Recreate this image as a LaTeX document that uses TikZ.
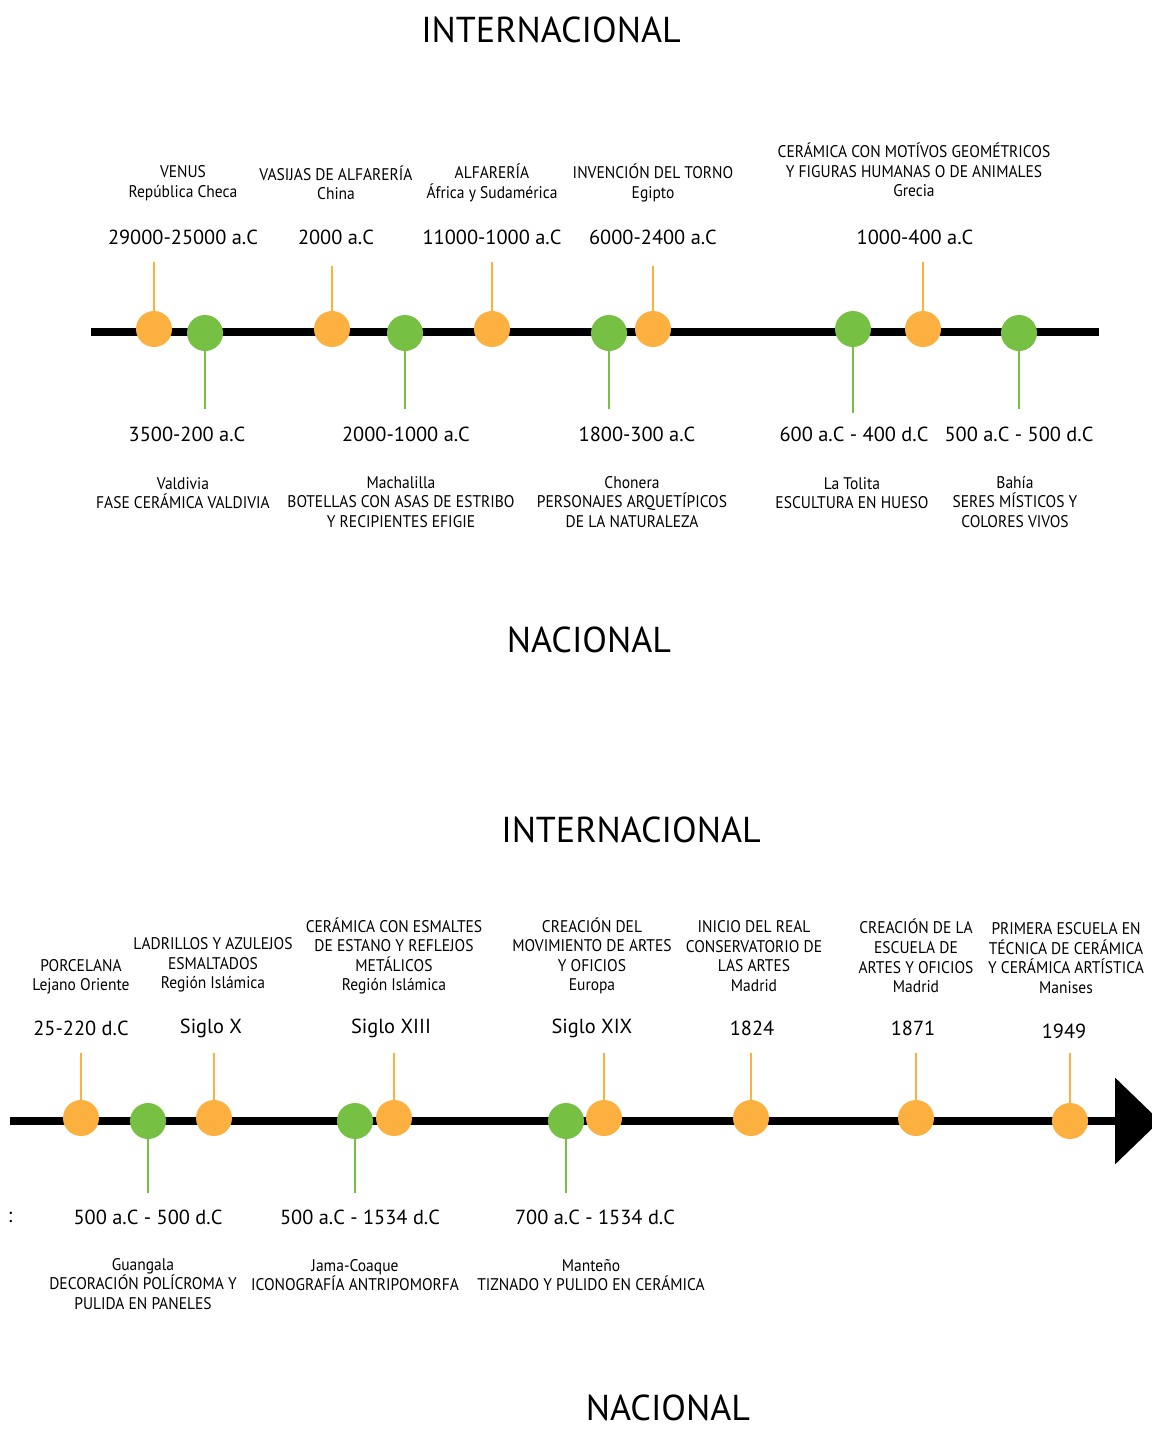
\documentclass[tikz,border=0pt]{standalone}
\usepackage{fontspec}
\setmainfont{PT Sans}
\newfontfamily\narrowf[FakeStretch=0.92]{PT Sans}
\usetikzlibrary{arrows.meta}
\definecolor{orangec}{HTML}{FBB040}
\definecolor{greenc}{HTML}{76C043}
\begin{document}
\begin{tikzpicture}[x=0.02cm,y=-0.02cm,
  orn/.style={circle,fill=orangec,inner sep=0pt,minimum size=0.72cm},
  grn/.style={circle,fill=greenc,inner sep=0pt,minimum size=0.72cm},
  otick/.style={draw=orangec,line width=1.2pt},
  gtick/.style={draw=greenc,line width=1.2pt},
  axis/.style={line width=4.6pt,black},
  ttl/.style={font=\fontsize{20.5}{24}\selectfont,inner sep=0pt},
  datel/.style={font=\fontsize{11.6}{14}\selectfont,inner sep=0pt},
  info/.style={font=\narrowf\fontsize{9.6}{11.1}\selectfont,align=center,inner sep=0pt}
]
\useasboundingbox (0,0) rectangle (1152,1431);
% ---------- timeline 1 ----------
\node[ttl] (t1) at (551,30) {INTERNACIONAL};
\node[ttl] (n1) at (589,640) {NACIONAL};
\coordinate (a1s) at (91,332);
\coordinate (a1e) at (1099,332);
\draw[axis] (a1s) -- (a1e);
% ticks coordinates
\coordinate (o1t) at (154,262);
\coordinate (o2t) at (332,266);
\coordinate (o3t) at (492,262);
\coordinate (o4t) at (653,266);
\coordinate (o5t) at (923,262);
\coordinate (g1b) at (205,409);
\coordinate (g2b) at (405,409);
\coordinate (g3b) at (609,409);
\coordinate (g4b) at (853,413);
\coordinate (g5b) at (1019,409);
\draw[otick] (o1t) -- (154,329);
\draw[otick] (o2t) -- (332,329);
\draw[otick] (o3t) -- (492,329);
\draw[otick] (o4t) -- (653,329);
\draw[otick] (o5t) -- (923,329);
\draw[gtick] (g1b) -- (205,333);
\draw[gtick] (g2b) -- (405,333);
\draw[gtick] (g3b) -- (609,333);
\draw[gtick] (g4b) -- (853,329);
\draw[gtick] (g5b) -- (1019,333);
\node[orn] (o1) at (154,329) {};
\node[grn] (g1) at (205,333) {};
\node[orn] (o2) at (332,329) {};
\node[grn] (g2) at (405,333) {};
\node[orn] (o3) at (492,329) {};
\node[grn] (g3) at (609,333) {};
\node[orn] (o4) at (653,329) {};
\node[grn] (g4) at (853,329) {};
\node[orn] (o5) at (923,329) {};
\node[grn] (g5) at (1019,333) {};
% top labels
\node[info] (i1) at (183,183) {VENUS\\República Checa};
\node[info] (i2) at (336,183) {VASIJAS DE ALFARERÍA\\China};
\node[info] (i3) at (492,183) {ALFARERÍA\\África y Sudamérica};
\node[info] (i4) at (653,183) {INVENCIÓN DEL TORNO\\Egipto};
\node[info] (i5) at (914,170) {CERÁMICA CON MOTÍVOS GEOMÉTRICOS\\Y FIGURAS HUMANAS O DE ANIMALES\\Grecia};
\node[datel] (d1) at (183,237) {29000-25000 a.C};
\node[datel] (d2) at (336,237) {2000 a.C};
\node[datel] (d3) at (492,237) {11000-1000 a.C};
\node[datel] (d4) at (653,237) {6000-2400 a.C};
\node[datel] (d5) at (915,237) {1000-400 a.C};
% bottom labels
\node[datel] (e1) at (187,434) {3500-200 a.C};
\node[datel] (e2) at (406,434) {2000-1000 a.C};
\node[datel] (e3) at (637,434) {1800-300 a.C};
\node[datel] (e4) at (854,434) {600 a.C - 400 d.C};
\node[datel] (e5) at (1019,434) {500 a.C - 500 d.C};
\node[info] (j1) at (183,493) {Valdivia\\FASE CERÁMICA VALDIVIA};
\node[info] (j2) at (401,502) {Machalilla\\BOTELLAS CON ASAS DE ESTRIBO\\Y RECIPIENTES EFIGIE};
\node[info] (j3) at (632,502) {Chonera\\PERSONAJES ARQUETÍPICOS\\DE LA NATURALEZA};
\node[info] (j4) at (852,493) {La Tolita\\ESCULTURA EN HUESO};
\node[info] (j5) at (1015,502) {Bahía\\SERES MÍSTICOS Y\\COLORES VIVOS};
% ---------- timeline 2 ----------
\node[ttl] (t2) at (631,830) {INTERNACIONAL};
\node[ttl] (n2) at (668,1408) {NACIONAL};
\coordinate (a2s) at (10,1121);
\coordinate (a2e) at (1160,1121);
\draw[axis,-{Triangle[length=0.9cm,width=1.7cm]}] (a2s) -- (a2e);
\coordinate (p1t) at (81,1053);
\coordinate (p2t) at (214,1053);
\coordinate (p3t) at (394,1053);
\coordinate (p4t) at (604,1053);
\coordinate (p5t) at (751,1053);
\coordinate (p6t) at (916,1053);
\coordinate (p7t) at (1070,1053);
\coordinate (q1b) at (148,1193);
\coordinate (q2b) at (355,1193);
\coordinate (q3b) at (566,1193);
\draw[otick] (p1t) -- (81,1118);
\draw[otick] (p2t) -- (214,1118);
\draw[otick] (p3t) -- (394,1118);
\draw[otick] (p4t) -- (604,1118);
\draw[otick] (p5t) -- (751,1118);
\draw[otick] (p6t) -- (916,1118);
\draw[otick] (p7t) -- (1070,1121);
\draw[gtick] (q1b) -- (148,1121);
\draw[gtick] (q2b) -- (355,1121);
\draw[gtick] (q3b) -- (566,1121);
\node[orn] (p1) at (81,1118) {};
\node[grn] (q1) at (148,1121) {};
\node[orn] (p2) at (214,1118) {};
\node[grn] (q2) at (355,1121) {};
\node[orn] (p3) at (394,1118) {};
\node[grn] (q3) at (566,1121) {};
\node[orn] (p4) at (604,1118) {};
\node[orn] (p5) at (751,1118) {};
\node[orn] (p6) at (916,1118) {};
\node[orn] (p7) at (1070,1121) {};
% top labels
\node[info] (k1) at (81,977) {PORCELANA\\Lejano Oriente};
\node[info] (k2) at (213,965) {LADRILLOS Y AZULEJOS\\ESMALTADOS\\Región Islámica};
\node[info] (k3) at (394,956) {CERÁMICA CON ESMALTES\\DE ESTANO Y REFLEJOS\\METÁLICOS\\Región Islámica};
\node[info] (k4) at (592,956) {CREACIÓN DEL\\MOVIMIENTO DE ARTES\\Y OFICIOS\\Europa};
\node[info] (k5) at (754,956) {INICIO DEL REAL\\CONSERVATORIO DE\\LAS ARTES\\Madrid};
\node[info] (k6) at (916,956) {CREACIÓN DE LA\\ESCUELA DE\\ARTES Y OFICIOS\\Madrid};
\node[info] (k7) at (1066,958) {PRIMERA ESCUELA EN\\TÉCNICA DE CERÁMICA\\Y CERÁMICA ARTÍSTICA\\Manises};
\node[datel] (f1) at (81,1028) {25-220 d.C};
\node[datel] (f2) at (211,1028) {Siglo X};
\node[datel] (f3) at (391,1028) {Siglo XIII};
\node[datel] (f4) at (592,1028) {Siglo XIX};
\node[datel] (f5) at (752,1028) {1824};
\node[datel] (f6) at (913,1028) {1871};
\node[datel] (f7) at (1064,1031) {1949};
% bottom labels
\node[datel] (h0) at (10,1217) {:};
\node[datel] (h1) at (148,1217) {500 a.C - 500 d.C};
\node[datel] (h2) at (360,1217) {500 a.C - 1534 d.C};
\node[datel] (h3) at (595,1217) {700 a.C - 1534 d.C};
\node[info] (m1) at (143,1284) {Guangala\\DECORACIÓN POLÍCROMA Y\\PULIDA EN PANELES};
\node[info] (m2) at (355,1275) {Jama-Coaque\\ICONOGRAFÍA ANTRIPOMORFA};
\node[info] (m3) at (591,1275) {Manteño\\TIZNADO Y PULIDO EN CERÁMICA};
\end{tikzpicture}
\end{document}
